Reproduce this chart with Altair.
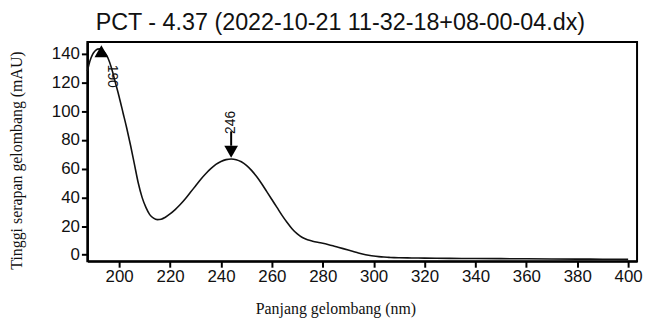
import altair as alt
import pandas as pd

# Spectrum data (wavelength nm, absorbance mAU)
wavelength = [187.5, 188.5, 189.5, 190.5, 191.5, 192.5, 193.5, 194.5, 195.5, 197, 198.5,
              200, 201.5, 203, 204.5, 206, 207.5, 209, 210.5, 212, 213.5, 215, 216.5, 218,
              220, 222, 224, 226, 228, 230, 232, 234, 236, 238, 240, 242, 244, 246, 248,
              250, 252, 254, 256, 258, 260, 262, 264, 266, 268, 270, 272, 274, 276, 278,
              280, 282, 284, 286, 288, 290, 292, 294, 296, 298, 300, 302, 304, 306, 308,
              310, 315, 320, 330, 340, 350, 360, 370, 380, 390, 400]
absorbance = [128, 135, 139.5, 142, 143.3, 143.5, 142.5, 140.5, 137.5, 130, 120,
              110, 99, 88, 76, 63, 50, 40, 33, 28, 25.5, 24.5, 24.8, 26,
              28.5, 31.5, 35, 39, 43.5, 48, 52.5, 56.5, 60, 63, 65, 66.3, 66.8, 66.3, 64.8,
              62.3, 58.8, 54.5, 49.5, 44, 38.5, 33, 27.5, 22.5, 18, 14.5, 12, 10.5, 9.5, 8.7,
              8, 7.2, 6.3, 5.3, 4.3, 3.3, 2.3, 1.3, 0.4, -0.3, -0.9, -1.3, -1.6, -1.8, -2,
              -2.1, -2.2, -2.3, -2.5, -2.6, -2.7, -2.8, -2.9, -3, -3.1, -3.2]

# Peak markers
peak_nm = [193, 244]
peak_y = [141.8, 71.8]
peak_dir = ["up", "down"]

# Peak labels
label_text = ["190", "246"]
label_nm = [197.3, 244]
label_y = [124.4, 92.3]

x_ticks = [200, 220, 240, 260, 280, 300, 320, 340, 360, 380, 400]
y_ticks = [0, 20, 40, 60, 80, 100, 120, 140]

title_text = "PCT - 4.37 (2022-10-21 11-32-18+08-00-04.dx)"

spec = pd.DataFrame({"nm": wavelength, "mAU": absorbance})
peaks = pd.DataFrame({"nm": peak_nm, "mAU": peak_y, "dir": peak_dir})
lab1 = pd.DataFrame({"nm": [label_nm[0]], "mAU": [label_y[0]], "t": [label_text[0]]})
lab2 = pd.DataFrame({"nm": [label_nm[1]], "mAU": [label_y[1]], "t": [label_text[1]]})
stem = pd.DataFrame({"nm": [peak_nm[1]], "y1": [76], "y2": [86]})

xs = alt.Scale(domain=[187.5, 403.5], nice=False, zero=False)
ys = alt.Scale(domain=[-4.5, 148.3], nice=False, zero=False)

x_axis = alt.Axis(values=x_ticks, title="Panjang gelombang (nm)", titleX=250, titleY=48,
                  titleBaseline="middle", titleAnchor="middle",
                  labelOverlap=False, labelFlush=False, tickCount=11)
y_axis = alt.Axis(values=y_ticks, title="Tinggi serapan gelombang (mAU)", titleX=-71,
                  titleY=119, titleBaseline="middle", titleAnchor="middle", titleAngle=-90,
                  labelOverlap=False, labelFlush=False, labelBound=False, tickCount=8)

line = alt.Chart(spec).mark_line(color="#111111", strokeWidth=1.6, interpolate="monotone").encode(
    x=alt.X("nm:Q", scale=xs, axis=x_axis),
    y=alt.Y("mAU:Q", scale=ys, axis=y_axis),
)

pts = alt.Chart(peaks).mark_point(filled=True, size=190, opacity=1, color="black").encode(
    x=alt.X("nm:Q", scale=xs, axis=x_axis),
    y=alt.Y("mAU:Q", scale=ys, axis=y_axis),
    shape=alt.Shape("dir:N", scale=alt.Scale(domain=["up", "down"],
                                              range=["triangle-up", "triangle-down"]), legend=None),
)

rule = alt.Chart(stem).mark_rule(color="black", strokeWidth=2).encode(
    x=alt.X("nm:Q", scale=xs, axis=x_axis),
    y=alt.Y("y1:Q", scale=ys, axis=y_axis),
    y2="y2:Q",
)

t1 = alt.Chart(lab1).mark_text(angle=90, font="Liberation Sans", fontSize=14, color="#111111",
                               align="center", baseline="middle").encode(
    x=alt.X("nm:Q", scale=xs, axis=x_axis), y=alt.Y("mAU:Q", scale=ys, axis=y_axis), text="t:N")
t2 = alt.Chart(lab2).mark_text(angle=270, font="Liberation Sans", fontSize=14, color="#111111",
                               align="center", baseline="middle").encode(
    x=alt.X("nm:Q", scale=xs, axis=x_axis), y=alt.Y("mAU:Q", scale=ys, axis=y_axis), text="t:N")

chart = alt.layer(line, pts, rule, t1, t2).properties(
    width=554, height=221,
    autosize=alt.AutoSizeParams(type="none"),
    padding={"left": 80, "top": 33, "right": 6, "bottom": 60},
    title=alt.TitleParams(text=title_text, font="Liberation Sans", fontSize=23.5, fontWeight="normal",
                          color="#111111", anchor="middle", dx=-22, offset=8),
).configure_view(stroke="black", strokeWidth=2).configure_axis(
    grid=False,
    domainColor="black", domainWidth=2.2,
    tickColor="black", tickWidth=2, tickSize=6,
    labelFont="Liberation Sans", labelFontSize=17, labelColor="#111111",
    labelOverlap=False,
    titleFont="Liberation Serif", titleFontSize=16, titleFontWeight="normal", titleColor="#111111",
).configure_axisY(labelPadding=2).configure_axisX(labelPadding=1)

chart.save("out.html", embed_options={"renderer": "svg", "actions": False})
